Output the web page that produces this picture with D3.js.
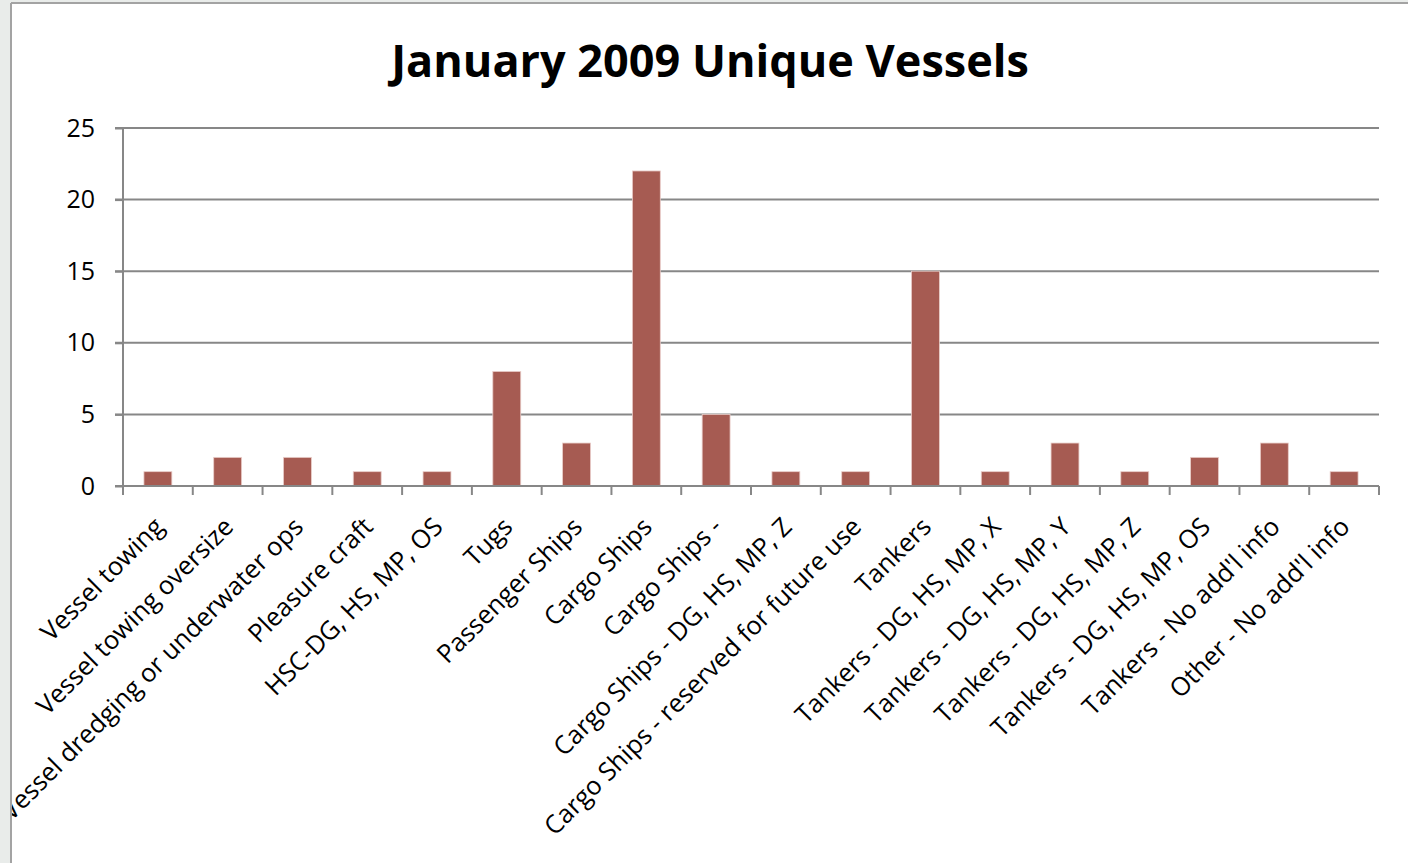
<!DOCTYPE html>
<html><head><meta charset="utf-8">
<script src="https://cdn.jsdelivr.net/npm/d3@7"></script>
<style>html,body{margin:0;padding:0;background:#e9ecea;overflow:hidden}</style>
</head><body>
<svg id="c" width="1408" height="863"></svg>
<script>
const categories = ["Vessel towing","Vessel towing oversize","Vessel dredging or underwater ops","Pleasure craft","HSC-DG, HS, MP, OS","Tugs","Passenger Ships","Cargo Ships","Cargo Ships -","Cargo Ships - DG, HS, MP, Z","Cargo Ships - reserved for future use","Tankers","Tankers - DG, HS, MP, X","Tankers - DG, HS, MP, Y","Tankers - DG, HS, MP, Z","Tankers - DG, HS, MP, OS","Tankers - No add'l info","Other - No add'l info"];
const values = [1,2,2,1,1,8,3,22,5,1,1,15,1,3,1,2,3,1];
const yTicks = [0,5,10,15,20,25];
const titleText = "January 2009 Unique Vessels";

const W = 1408, H = 863;
const plot = {left:123, right:1379, top:128, bottom:486};
const svg = d3.select("#c");
const font = "'Open Sans', sans-serif";

// frame
svg.append("defs").append("clipPath").attr("id","frameClip")
  .append("rect").attr("x",12).attr("y",4).attr("width",W-12).attr("height",H-4);
svg.append("rect").attr("x",11).attr("y",3).attr("width",W-11).attr("height",H-3).attr("fill","#ffffff");
svg.append("line").attr("x1",11).attr("x2",11).attr("y1",3).attr("y2",H).attr("stroke","#a3a3a3").attr("stroke-width",2);
svg.append("line").attr("x1",11).attr("x2",W).attr("y1",3).attr("y2",3).attr("stroke","#a3a3a3").attr("stroke-width",2);

const g = svg.append("g").attr("clip-path","url(#frameClip)");

const x0 = d3.scaleBand().domain(categories).range([plot.left, plot.right]).padding(0);
const x = d3.scaleBand().domain(categories).range([plot.left, plot.right]).paddingInner(0.6).paddingOuter(0.3);
const y = d3.scaleLinear().domain([0,25]).range([plot.bottom, plot.top]);

// gridlines
const grid = g.append("g");
grid.selectAll("line").data(yTicks.filter(d=>d>0)).join("line")
  .attr("x1", plot.left-8).attr("x2", plot.right)
  .attr("y1", d=>y(d)).attr("y2", d=>y(d))
  .attr("stroke","#878787").attr("stroke-width",2);

// bars
g.append("g").selectAll("rect").data(categories).join("rect")
  .attr("x", d=>x(d)).attr("width", x.bandwidth())
  .attr("y", (d,i)=>y(values[i])).attr("height", (d,i)=>y(0)-y(values[i]))
  .attr("fill","#a65b52").attr("stroke","#e9cdc9").attr("stroke-width",0.8);

// y axis
const ya = g.append("g").attr("transform",`translate(${plot.left},0)`).call(d3.axisLeft(y).tickValues(yTicks).tickSize(8).tickPadding(20).tickFormat(d3.format("d")));
ya.select(".domain").attr("stroke","#878787").attr("stroke-width",2).attr("d",`M0,${plot.top}V${plot.bottom}`);
ya.selectAll(".tick line").attr("stroke","#878787").attr("stroke-width",2);
ya.selectAll(".tick text").attr("font-family",font).attr("font-size",25).attr("fill","#000");

// x axis
const xa = g.append("g").attr("transform",`translate(0,${plot.bottom})`);
xa.append("line").attr("x1",plot.left-8).attr("x2",plot.right).attr("y1",0).attr("y2",0).attr("stroke","#878787").attr("stroke-width",2);
const tickPos = categories.map(c=>x0(c)).concat([plot.right]);
xa.selectAll("line.t").data(tickPos).join("line").attr("class","t")
  .attr("x1",d=>d).attr("x2",d=>d).attr("y1",0).attr("y2",9)
  .attr("stroke","#878787").attr("stroke-width",2);

// x labels
g.append("g").selectAll("text").data(categories).join("text")
  .attr("transform", d=>{const cx = x0(d)+x0.bandwidth()/2+1; return `translate(${cx},${plot.bottom+36}) rotate(-45)`;})
  .attr("text-anchor","end").attr("dy","0.35em")
  .attr("font-family",font).attr("font-size",25.5).attr("fill","#000")
  .text(d=>d);

// title
g.append("text").attr("x",710).attr("y",77).attr("text-anchor","middle")
  .attr("font-family",font).attr("font-weight","bold").attr("font-size",45).attr("fill","#000").text(titleText);
</script>
</body></html>
